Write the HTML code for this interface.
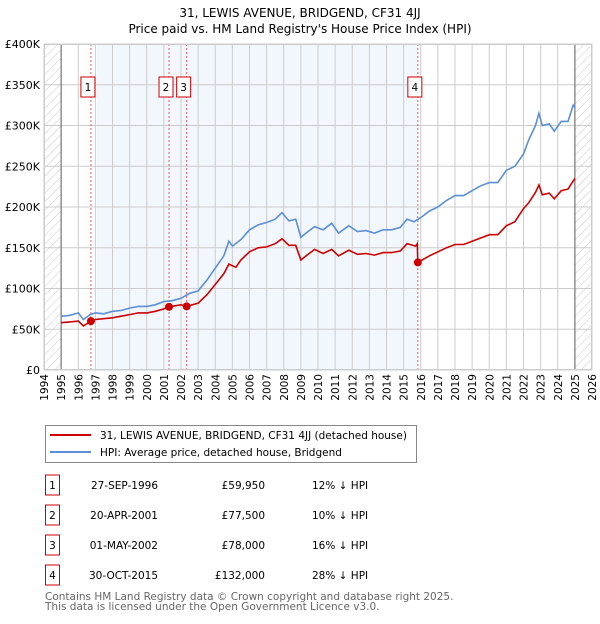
<!DOCTYPE html>
<html><head><meta charset="utf-8"><style>
body{margin:0;background:#fff;font-family:"DejaVu Sans","Liberation Sans",sans-serif;}
svg text{font-family:"DejaVu Sans","Liberation Sans",sans-serif;}
</style></head><body>
<svg width="600" height="620" viewBox="0 0 600 620">
<defs><pattern id="h" width="6" height="6" patternUnits="userSpaceOnUse" patternTransform="rotate(45)"><line x1="0" y1="0" x2="0" y2="6" stroke="#bbb" stroke-width="0.8"/></pattern></defs>
<text x="300" y="17" font-size="12" text-anchor="middle">31, LEWIS AVENUE, BRIDGEND, CF31 4JJ</text>
<text x="300" y="33" font-size="12" text-anchor="middle">Price paid vs. HM Land Registry's House Price Index (HPI)</text>
<g id="plot"></g>
<g>
<rect x="45.5" y="425.5" width="371" height="37" fill="#fff" stroke="#888"/>
<line x1="50" y1="435" x2="91" y2="435" stroke="#cc0000" stroke-width="2"/>
<text x="100" y="439" font-size="10.5">31, LEWIS AVENUE, BRIDGEND, CF31 4JJ (detached house)</text>
<line x1="50" y1="452" x2="91" y2="452" stroke="#5b8fd4" stroke-width="2"/>
<text x="100" y="456" font-size="10.5">HPI: Average price, detached house, Bridgend</text>
</g>
<g id="table" font-size="10.5"></g>
<text x="45" y="600" font-size="10.5" fill="#666">Contains HM Land Registry data © Crown copyright and database right 2025.</text>
<text x="45" y="610" font-size="10.5" fill="#666">This data is licensed under the Open Government Licence v3.0.</text>
</svg>
<script>
const yTicks=[0,50000,100000,150000,200000,250000,300000,350000,400000];
const yTickLabels=["£0","£50K","£100K","£150K","£200K","£250K","£300K","£350K","£400K"];
const years=[1994,1995,1996,1997,1998,1999,2000,2001,2002,2003,2004,2005,2006,2007,2008,2009,2010,2011,2012,2013,2014,2015,2016,2017,2018,2019,2020,2021,2022,2023,2024,2025,2026];
const hpiT=[1995,1995.5,1996,1996.3,1996.7,1997,1997.5,1998,1998.5,1999,1999.5,2000,2000.5,2001,2001.5,2002,2002.5,2003,2003.5,2004,2004.5,2004.8,2005,2005.5,2006,2006.5,2007,2007.5,2007.9,2008.3,2008.7,2009,2009.3,2009.8,2010.3,2010.8,2011.2,2011.8,2012.3,2012.8,2013.3,2013.8,2014.3,2014.8,2015.2,2015.6,2016,2016.5,2017,2017.5,2018,2018.5,2019,2019.5,2020,2020.5,2021,2021.5,2022,2022.3,2022.7,2022.9,2023.1,2023.5,2023.8,2024.2,2024.6,2024.9,2025];
const hpiV=[66,67,70,62,68,70,69,72,73,76,78,78,80,84,85,88,94,97,110,125,140,158,152,160,172,178,181,185,193,183,185,163,168,176,172,180,168,177,170,171,168,172,172,175,185,182,187,195,200,208,214,214,220,226,230,230,245,250,265,282,300,315,300,302,293,305,305,325,322];
const ppT=[1995,1995.5,1996,1996.3,1996.74,1997,1998,1998.5,1999,1999.5,2000,2000.5,2001,2001.3,2002,2002.33,2003,2003.5,2004,2004.5,2004.8,2005.2,2005.5,2006,2006.5,2007,2007.5,2007.9,2008.3,2008.7,2009,2009.3,2009.8,2010.3,2010.8,2011.2,2011.8,2012.3,2012.8,2013.3,2013.8,2014.3,2014.8,2015.2,2015.7,2015.8,2015.83,2016.5,2017,2017.5,2018,2018.5,2019,2019.5,2020,2020.5,2021,2021.5,2022,2022.3,2022.7,2022.9,2023.1,2023.5,2023.8,2024.2,2024.6,2024.9,2025];
const ppV=[58,59,60,54,60,62,64,66,68,70,70,72,75,77.5,80,78,82,92,105,118,130,126,135,145,150,151,155,161,153,153,135,140,148,143,148,140,147,142,143,141,144,144,146,155,152,155,132,140,145,150,154,154,158,162,166,166,177,182,198,205,218,227,215,217,210,220,222,232,235];
const saleT=[1996.74,2001.3,2002.33,2015.83];
const saleV=[59950,77500,78000,132000];
const saleLabels=["1","2","3","4"];
const saleDates=["27-SEP-1996","20-APR-2001","01-MAY-2002","30-OCT-2015"];
const salePrices=["£59,950","£77,500","£78,000","£132,000"];
const saleDiffs=["12% ↓ HPI","10% ↓ HPI","16% ↓ HPI","28% ↓ HPI"];
const X0=44,X1=592,Y0=370,Y1=44;
const x=t=>X0+(t-1994)/(2026-1994)*(X1-X0);
const y=v=>Y0-v/400000*(Y0-Y1);
const NS="http://www.w3.org/2000/svg";
const g=document.getElementById('plot');
function mk(tag,a,p){const e=document.createElementNS(NS,tag);for(const k in a)e.setAttribute(k,a[k]);(p||g).appendChild(e);return e;}
let e;
e=mk('rect',{x:x(1997.07),y:Y1,width:x(2015.83)-x(1997.07),height:Y0-Y1,fill:'#f2f6fd'});

e=mk('rect',{x:X0,y:Y1,width:x(1995)-X0,height:Y0-Y1,fill:'url(#h)'});

e=mk('rect',{x:x(2025),y:Y1,width:X1-x(2025),height:Y0-Y1,fill:'url(#h)'});

years.forEach(yr=>{const l=mk('line',{x1:x(yr),x2:x(yr),y1:Y1,y2:Y0,stroke:'#ccc','stroke-width':1});

const t=mk('text',{x:0,y:0,'font-size':10.5,'text-anchor':'end',transform:`translate(${x(yr)+4},374) rotate(-90)`});t.textContent=yr;
});
yTicks.forEach((v,i)=>{const l=mk('line',{x1:X0,x2:X1,y1:y(v),y2:y(v),stroke:'#ccc','stroke-width':1});

const t=mk('text',{x:40,y:y(v)+4,'font-size':11,'text-anchor':'end'});t.textContent=yTickLabels[i];
});
[1995,2025].forEach(yr=>{const l=mk('line',{x1:x(yr),x2:x(yr),y1:Y1,y2:Y0,stroke:'#777','stroke-width':1.2});
});
saleT.forEach((t,i)=>{const l=mk('line',{x1:x(t),x2:x(t),y1:Y1,y2:Y0,stroke:'#e06060','stroke-width':1,'stroke-dasharray':'2,2'});
});
function path(T,V,col,name){const d=T.map((t,i)=>(i?'L':'M')+x(t).toFixed(1)+','+y(V[i]*1000).toFixed(1)).join('');
const p=mk('path',{d:d,fill:'none',stroke:col,'stroke-width':1.6});}
path(hpiT,hpiV,'#5b8fd4','hpi-line');
path(ppT,ppV,'#cc0000','price-paid-line');
saleT.forEach((t,i)=>{const c=mk('circle',{cx:x(t),cy:y(saleV[i]),r:4,fill:'#cc0000'});

const bx=x(t)-10;
const r=mk('rect',{x:bx,y:77,width:14,height:20,fill:'#fff',stroke:'#cc0000','stroke-width':1});

const tx=mk('text',{x:bx+7,y:91,'font-size':10.5,'text-anchor':'middle'});tx.textContent=saleLabels[i];
});
mk('rect',{x:X0+0.5,y:Y1+0.5,width:X1-X0-1,height:Y0-Y1-1,fill:'none',stroke:'#ccc'});
const tb=document.getElementById('table');
saleLabels.forEach((s,i)=>{const yy=483+i*30;
const r=mk('rect',{x:45.5,y:yy-8,width:14,height:20,fill:'#fff',stroke:'#cc0000'},tb);

const cols=[[52.5,s,'middle'],[158,saleDates[i],'end'],[265,salePrices[i],'end'],[312,saleDiffs[i],'start']];
cols.forEach(c=>{const t=mk('text',{x:c[0],y:yy+6,'text-anchor':c[2]},tb);t.textContent=c[1];
});});
</script>
</body></html>
